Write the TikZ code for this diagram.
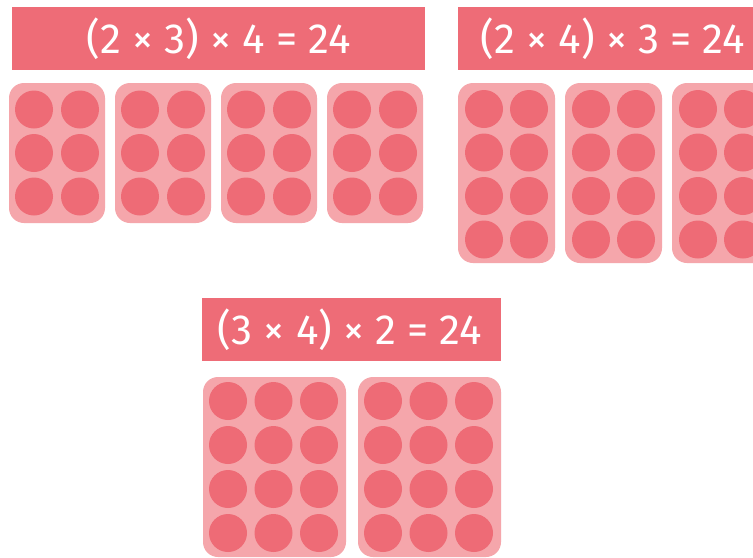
\documentclass[tikz,border=0pt]{standalone}
\usepackage{fontspec}
\setmainfont{Fira Sans}
\definecolor{bannerred}{HTML}{EE6C77}
\definecolor{traypink}{HTML}{F5A6AB}
\definecolor{cupred}{HTML}{EE6B76}

\begin{document}
\begin{tikzpicture}[x=0.03cm, y=-0.03cm, line join=round,
    banner/.style={fill=bannerred},
    eqtext/.style={text=white, font=\fontsize{36}{42}\selectfont, inner sep=0pt},
    tray/.style={fill=traypink, rounded corners=0.45cm},
    cup/.style={fill=cupred}]
    \clip (0,0) rectangle (753,558);
    \fill[white] (0,0) rectangle (753,558);

    % banners
    \fill[banner] (12,7) rectangle (425,70);
    \fill[banner] (458,7) rectangle (768,70);
    \fill[banner] (202,298) rectangle (501,361);
    \node[eqtext] (eqA) at (218.5,38.5) {(2 × 3) × 4 = 24};
    \node[eqtext] (eqB) at (613,38.5) {(2 × 4) × 3 = 24};
    \node[eqtext] (eqC) at (350,329.5) {(3 × 4) × 2 = 24};

    % 2 x 3 trays
    \foreach \l in {9,115,221,327} {
        \fill[tray] (\l,83) rectangle ++(96,140);
        \foreach \c in {0,1}
            \foreach \r in {0,1,2}
                \fill[cup] (\l+25+46*\c, 109.5+43.5*\r) circle[radius=19];
    }

    % 2 x 4 trays
    \foreach \l in {458,565,672} {
        \fill[tray] (\l,83) rectangle ++(97,180);
        \foreach \c in {0,1}
            \foreach \r in {0,1,2,3}
                \fill[cup] (\l+26+45*\c, 109+43.5*\r) circle[radius=19];
    }

    % 3 x 4 trays
    \foreach \l in {203,358} {
        \fill[tray] (\l,377) rectangle ++(143,180);
        \foreach \c in {0,1,2}
            \foreach \r in {0,1,2,3}
                \fill[cup] (\l+25+45.5*\c, 401+44*\r) circle[radius=19];
    }
\end{tikzpicture}
\end{document}
